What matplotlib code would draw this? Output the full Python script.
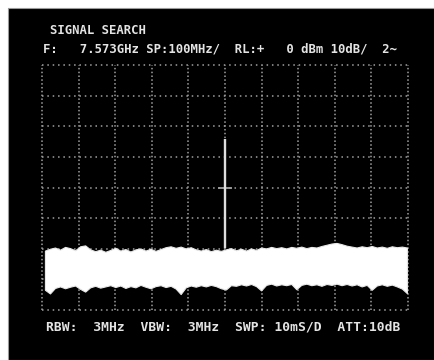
import numpy as np
import matplotlib
matplotlib.use("Agg")
import matplotlib.pyplot as plt
from matplotlib.patches import Rectangle

# ---- data ----
CENTER_GHZ = 7.573
SPAN_PER_DIV_GHZ = 0.100
REF_LEVEL_DBM = 0
DB_PER_DIV = 10
N_XDIV, N_YDIV = 10, 8

# noise floor envelope (dBm), sampled across the sweep
noise_upper = [-60.6, -60.0, -59.6, -60.3, -59.4, -59.8, -60.5, -59.2, -58.9, -60.2,
               -60.8, -60.3, -61.0, -60.4, -59.7, -60.6, -60.1, -60.9, -60.2, -59.9,
               -60.6, -60.0, -60.7, -60.1, -59.5, -59.2, -59.7, -59.3, -59.9, -59.5,
               -60.2, -60.6, -60.1, -60.8, -60.3, -60.7, -60.2, -59.8, -60.5, -60.0,
               -60.6, -59.9, -60.4, -59.6, -59.9, -59.4, -59.8, -59.5, -59.9, -59.4,
               -59.7, -59.3, -59.8, -59.4, -59.6, -59.1, -58.7, -58.3, -58.1, -58.5,
               -59.0, -59.3, -59.6, -59.2, -59.5, -59.1, -59.6, -59.3, -59.7, -59.2,
               -59.5, -59.3, -59.6]
noise_lower = [-73.4, -74.6, -72.8, -72.3, -72.9, -72.4, -72.0, -73.1, -74.0, -72.6,
               -72.1, -72.7, -72.3, -71.9, -72.5, -72.0, -72.8, -72.2, -72.6, -71.8,
               -72.4, -72.9, -72.2, -71.9, -72.5, -72.1, -73.0, -74.8, -72.6, -72.0,
               -72.4, -71.9, -72.3, -71.8, -72.2, -72.9, -73.3, -71.9, -72.1, -71.6,
               -72.0, -71.5, -72.2, -73.6, -71.8, -71.4, -72.0, -71.6, -71.9, -71.5,
               -73.2, -71.8, -71.4, -71.9, -71.6, -72.1, -71.5, -71.8, -71.4, -71.9,
               -71.5, -72.0, -71.6, -72.3, -71.8, -73.4, -72.0, -71.6, -72.1, -71.7,
               -72.3, -73.0, -74.5]
SWEEP_FIRST_GHZ = 7.081
SWEEP_LAST_GHZ = 8.070

peak_freq_ghz = [7.573]
peak_level_dbm = [-24.0]

header_title = "SIGNAL SEARCH"
header_line = "F:   7.573GHz SP:100MHz/  RL:+   0 dBm 10dB/  2~"
footer_line = "RBW:  3MHz  VBW:  3MHz  SWP: 10mS/D  ATT:10dB"

# ---- figure ----
W, H = 435, 360
fig = plt.figure(figsize=(W / 100, H / 100), dpi=100, facecolor="white")
fig.patches.append(Rectangle((8.5 / W, 0), 1, (H - 7.5) / H, transform=fig.transFigure,
                             facecolor="black", edgecolor="#9a9a9a", linewidth=0.8,
                             zorder=-5))

left, right, top, bottom = 42, 408, 65, 310
ax = fig.add_axes([left / W, (H - bottom) / H, (right - left) / W, (bottom - top) / H])
ax.set_zorder(2)
ax.set_facecolor("none")
f_lo = CENTER_GHZ - SPAN_PER_DIV_GHZ * N_XDIV / 2
f_hi = CENTER_GHZ + SPAN_PER_DIV_GHZ * N_XDIV / 2
y_lo = REF_LEVEL_DBM - DB_PER_DIV * N_YDIV
ax.set_xlim(f_lo, f_hi)
ax.set_ylim(y_lo, REF_LEVEL_DBM)
for s in ax.spines.values():
    s.set_visible(False)
ax.set_xticks([])
ax.set_yticks([])

grid_col = "#a0a0a0"
for k in range(N_XDIV + 1):
    ax.axvline(f_lo + k * SPAN_PER_DIV_GHZ, color=grid_col, lw=1.1,
               linestyle=(0, (1, 1.5)), zorder=1, clip_on=False)
for k in range(N_YDIV + 1):
    ax.axhline(REF_LEVEL_DBM - k * DB_PER_DIV, color=grid_col, lw=1.1,
               linestyle=(0, (1, 2.5)), zorder=1, clip_on=False)
# centre graticule tick
ax.hlines(REF_LEVEL_DBM - DB_PER_DIV * N_YDIV / 2, CENTER_GHZ - 0.02, CENTER_GHZ + 0.02,
          color=grid_col, lw=1.3, zorder=1)

freqs = np.linspace(SWEEP_FIRST_GHZ, SWEEP_LAST_GHZ, len(noise_upper))
ax.fill_between(freqs, noise_lower, noise_upper, color="white", lw=0.8,
                edgecolor="#e8e8e8", zorder=3)
ax.vlines(peak_freq_ghz, [np.mean(noise_upper)] * len(peak_freq_ghz), peak_level_dbm,
          color="#dedede", lw=1.7, zorder=4)

txt_col = "#e4e4e4"
fam = ["DejaVu Sans Mono"]
fig.text(50 / W, 1 - 33.5 / H, header_title, color=txt_col, fontsize=8.8,
         family=fam, weight="bold", va="baseline", ha="left")
fig.text(43 / W, 1 - 52.5 / H, header_line, color=txt_col, fontsize=8.85,
         family=fam, weight="bold", va="baseline", ha="left")
fig.text(46 / W, 1 - 331 / H, footer_line, color=txt_col, fontsize=9.35,
         family=fam, weight="bold", va="baseline", ha="left")

fig.savefig("out.png", dpi=100, facecolor=fig.get_facecolor())
